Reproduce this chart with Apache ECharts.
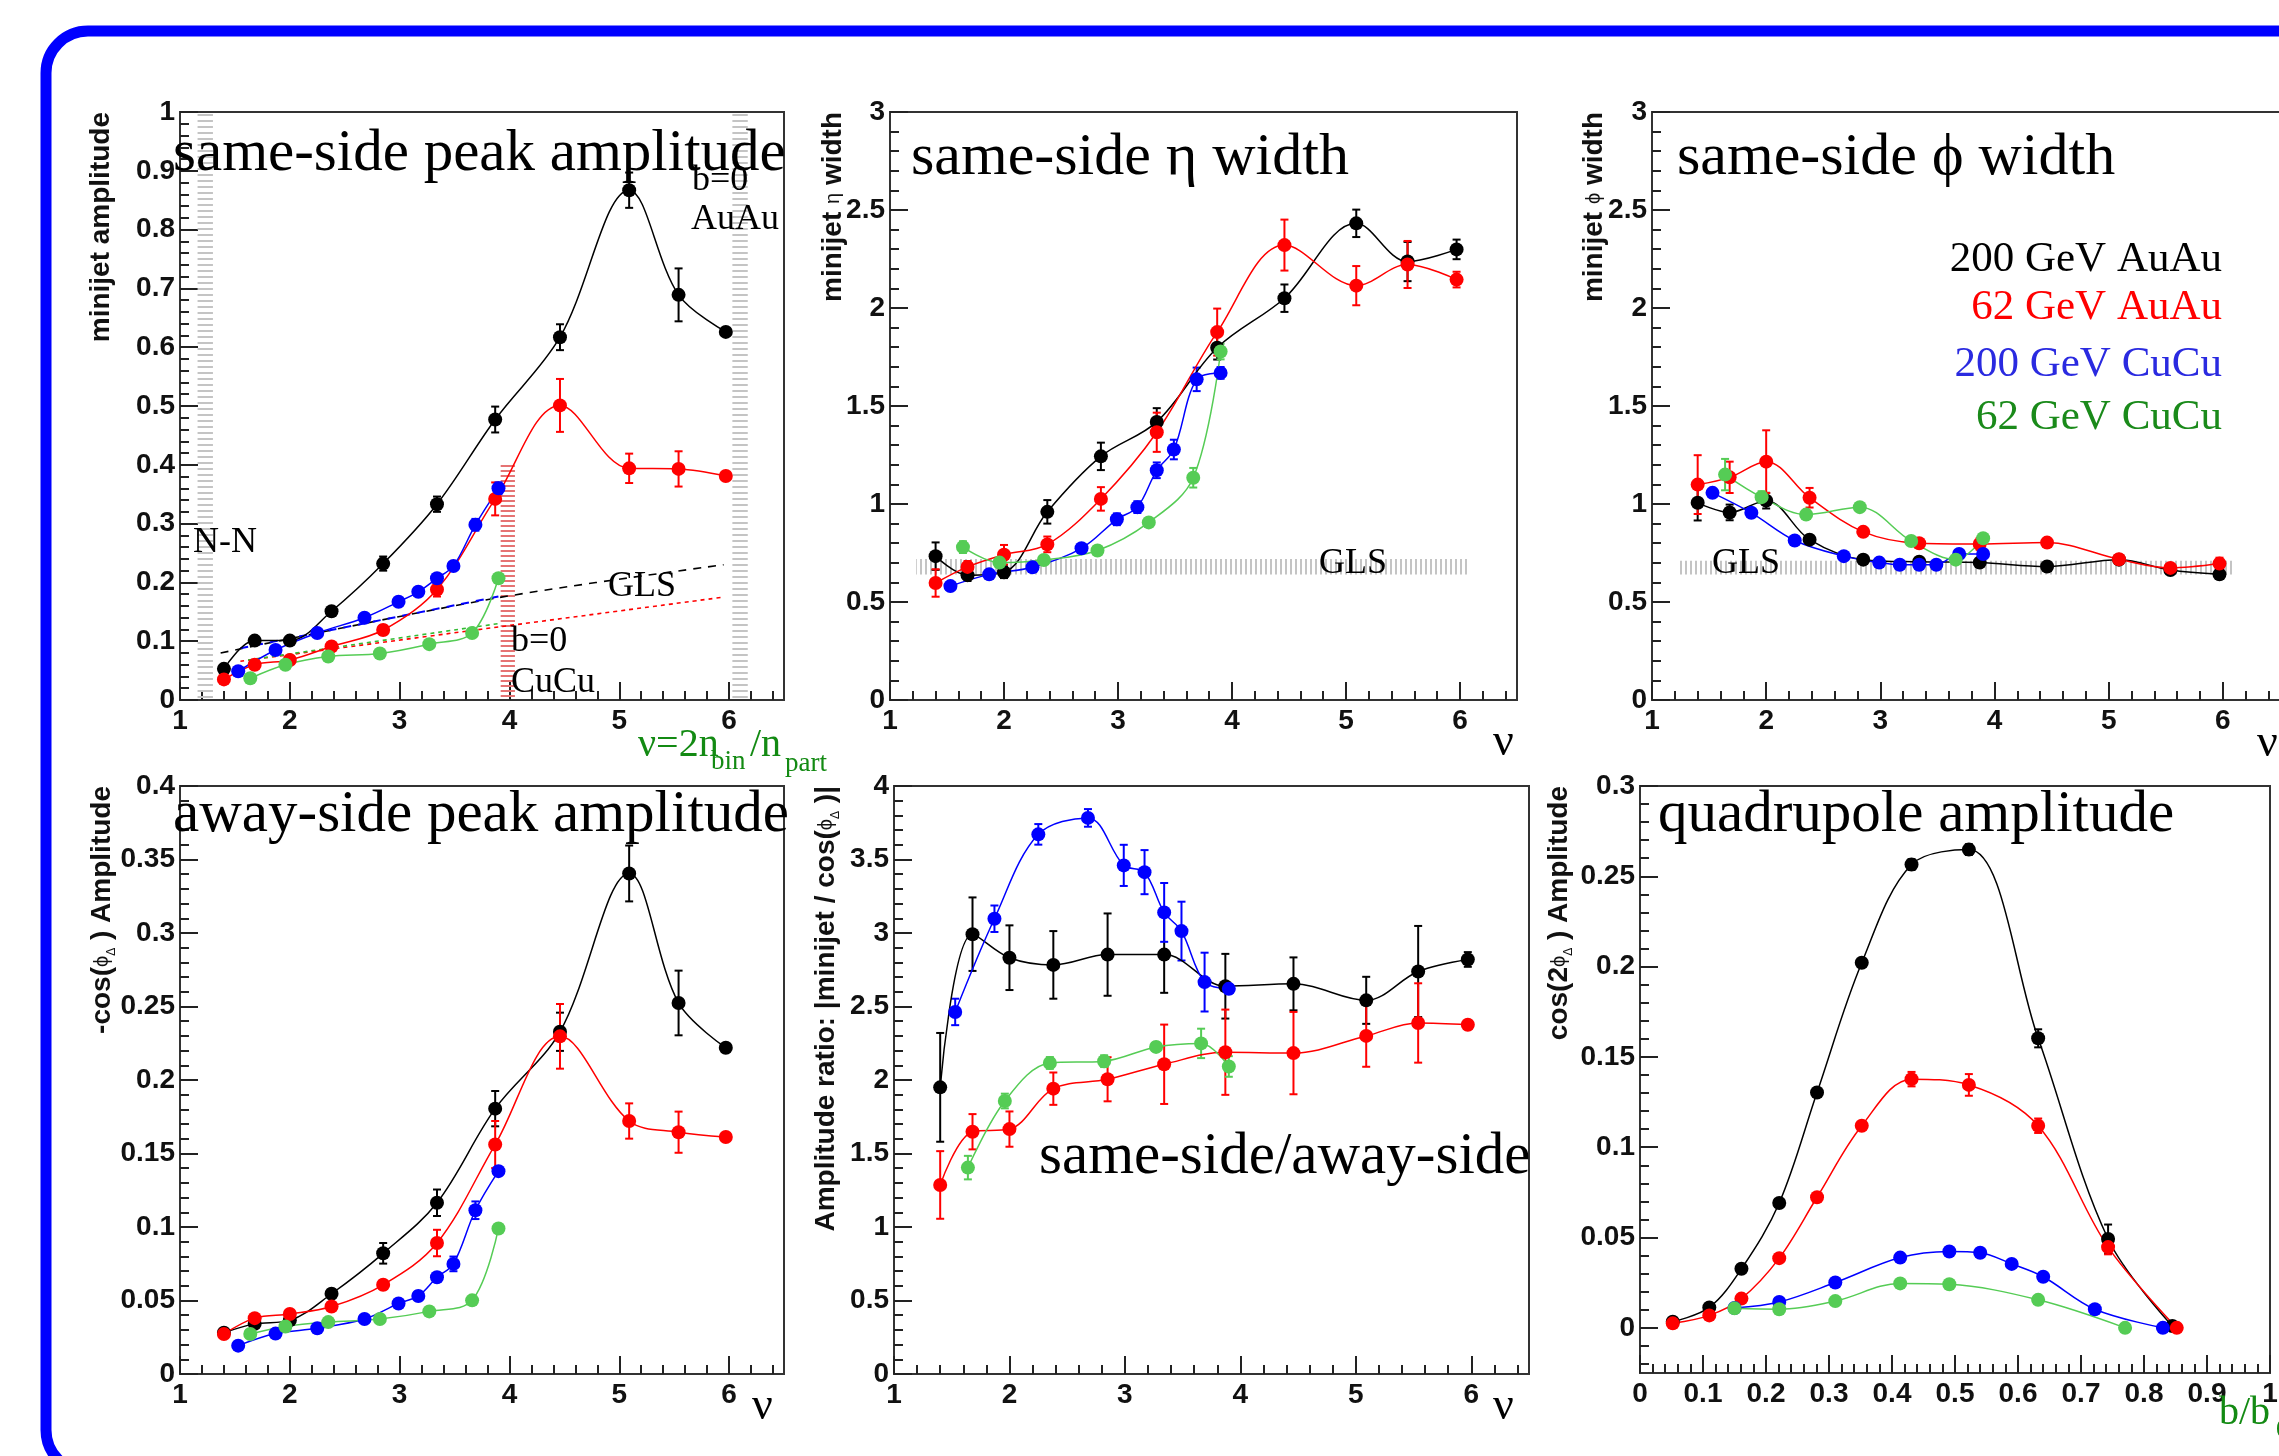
<!DOCTYPE html>
<html>
<head>
<meta charset="utf-8">
<script src="https://cdn.jsdelivr.net/npm/echarts@6/dist/echarts.min.js"></script>
<style>
  html, body { margin: 0; padding: 0; background: #fff; }
  #chart { width: 2279px; height: 1456px; }
</style>
</head>
<body>
<div id="chart"></div>
<script>
// ---- centrality points (nu = 2 n_bin / n_part) per collision system ----
const nuAuAu200 = [1.40, 1.68, 2.00, 2.38, 2.85, 3.34, 3.87, 4.46, 5.09, 5.54, 5.97];
const nuAuAu62  = [1.40, 1.68, 2.00, 2.38, 2.85, 3.34, 3.87, 4.46, 5.09, 5.54, 5.97];
const nuCuCu200 = [1.53, 1.87, 2.25, 2.68, 2.99, 3.17, 3.34, 3.49, 3.69, 3.90];
const nuCuCu62  = [1.64, 1.96, 2.35, 2.82, 3.27, 3.66, 3.90];

// ---- same-side peak amplitude ----
const ssAmpAuAu200 = [0.053, 0.101, 0.101, 0.151, 0.232, 0.333, 0.477, 0.617, 0.867, 0.689, 0.626];
const ssAmpAuAu200Err = [0.005, 0.005, 0.005, 0.007, 0.012, 0.013, 0.022, 0.022, 0.030, 0.045, 0.006];
const ssAmpAuAu62 = [0.035, 0.060, 0.068, 0.091, 0.119, 0.188, 0.342, 0.501, 0.394, 0.393, 0.381];
const ssAmpAuAu62Err = [0.004, 0.004, 0.004, 0.006, 0.008, 0.012, 0.028, 0.045, 0.025, 0.030, 0.006];
const ssAmpCuCu200 = [0.049, 0.085, 0.114, 0.140, 0.167, 0.184, 0.207, 0.228, 0.298, 0.360];
const ssAmpCuCu200Err = [0.003, 0.003, 0.003, 0.004, 0.005, 0.005, 0.006, 0.006, 0.010, 0.010];
const ssAmpCuCu62 = [0.037, 0.060, 0.074, 0.079, 0.095, 0.114, 0.207];
const ssAmpCuCu62Err = [0.003, 0.003, 0.003, 0.003, 0.004, 0.004, 0.006];
// Glauber linear superposition references
const glsAuAu200Nu = [1.37, 3.90, 5.95];
const glsAuAu200 = [0.080, 0.174, 0.230];
const glsCuCu200Nu = [1.55, 3.90];
const glsCuCu200 = [0.088, 0.176];
const glsAuAu62Nu = [1.55, 5.95];
const glsAuAu62 = [0.066, 0.175];
const glsCuCu62Nu = [1.62, 3.90];
const glsCuCu62 = [0.068, 0.130];
// shaded bands: N-N limit, b=0 AuAu, b=0 CuCu (nu extents, top value)
const bandNN = [1.16, 1.30, 1.0];
const bandAuAu = [6.03, 6.17, 1.0];
const bandCuCu = [3.92, 4.05, 0.40];

// ---- same-side eta width ----
const etaWAuAu200 = [0.734, 0.637, 0.652, 0.960, 1.243, 1.419, 1.797, 2.050, 2.432, 2.237, 2.299];
const etaWAuAu200Err = [0.07, 0.03, 0.03, 0.06, 0.07, 0.07, 0.06, 0.07, 0.07, 0.10, 0.05];
const etaWAuAu62 = [0.597, 0.679, 0.741, 0.794, 1.026, 1.366, 1.877, 2.321, 2.114, 2.222, 2.145];
const etaWAuAu62Err = [0.07, 0.03, 0.05, 0.04, 0.06, 0.10, 0.12, 0.13, 0.10, 0.12, 0.04];
const etaWCuCu200 = [0.581, 0.641, 0.677, 0.774, 0.922, 0.984, 1.172, 1.278, 1.636, 1.669];
const etaWCuCu200Err = [0.02, 0.02, 0.02, 0.02, 0.03, 0.03, 0.04, 0.05, 0.06, 0.03];
const etaWCuCu62 = [0.780, 0.701, 0.714, 0.763, 0.906, 1.134, 1.778];
const etaWCuCu62Err = [0.03, 0.02, 0.02, 0.02, 0.02, 0.05, 0.04];
const bandGlsEta = [1.23, 6.07, 0.64, 0.72];

// ---- same-side phi width ----
const phiWAuAu200 = [1.006, 0.957, 1.017, 0.818, 0.716, 0.705, 0.701, 0.681, 0.716, 0.663, 0.641];
const phiWAuAu200Err = [0.09, 0.04, 0.04, 0.02, 0.02, 0.01, 0.02, 0.02, 0.02, 0.02, 0.02];
const phiWAuAu62 = [1.099, 1.136, 1.216, 1.032, 0.858, 0.800, 0.796, 0.803, 0.718, 0.674, 0.696];
const phiWAuAu62Err = [0.15, 0.08, 0.16, 0.05, 0.02, 0.02, 0.03, 0.02, 0.02, 0.02, 0.03];
const phiWCuCu200 = [1.057, 0.955, 0.814, 0.734, 0.701, 0.690, 0.690, 0.690, 0.745, 0.745];
const phiWCuCu200Err = [0.02, 0.02, 0.02, 0.02, 0.02, 0.02, 0.02, 0.02, 0.02, 0.02];
const phiWCuCu62 = [1.150, 1.035, 0.946, 0.984, 0.811, 0.716, 0.825];
const phiWCuCu62Err = [0.08, 0.03, 0.02, 0.02, 0.02, 0.02, 0.02];
const bandGlsPhi = [1.245, 6.09, 0.64, 0.71];

// ---- away-side peak amplitude ----
const asAmpAuAu200 = [0.0281, 0.0341, 0.0365, 0.0546, 0.0821, 0.1165, 0.1805, 0.2328, 0.3405, 0.2524, 0.2219];
const asAmpAuAu200Err = [0.002, 0.002, 0.002, 0.003, 0.007, 0.009, 0.012, 0.013, 0.019, 0.022, 0.002];
const asAmpAuAu62 = [0.0272, 0.0380, 0.0408, 0.0459, 0.0607, 0.0891, 0.1561, 0.2297, 0.1721, 0.1645, 0.1612];
const asAmpAuAu62Err = [0.002, 0.002, 0.002, 0.003, 0.003, 0.009, 0.016, 0.022, 0.012, 0.014, 0.002];
const asAmpCuCu200 = [0.0193, 0.0275, 0.0311, 0.0374, 0.0480, 0.0531, 0.0658, 0.0749, 0.1114, 0.1380];
const asAmpCuCu200Err = [0.001, 0.001, 0.002, 0.002, 0.002, 0.003, 0.003, 0.005, 0.006, 0.003];
const asAmpCuCu62 = [0.0272, 0.0323, 0.0353, 0.0374, 0.0426, 0.0501, 0.0990];
const asAmpCuCu62Err = [0.001, 0.001, 0.001, 0.001, 0.002, 0.002, 0.002];

// ---- same-side / away-side amplitude ratio ----
const ratioAuAu200 = [1.950, 2.992, 2.832, 2.783, 2.853, 2.853, 2.638, 2.654, 2.542, 2.738, 2.820];
const ratioAuAu200Err = [0.37, 0.25, 0.22, 0.23, 0.28, 0.26, 0.22, 0.18, 0.16, 0.31, 0.05];
const ratioAuAu62 = [1.286, 1.648, 1.666, 1.941, 2.005, 2.107, 2.189, 2.183, 2.300, 2.388, 2.376];
const ratioAuAu62Err = [0.23, 0.12, 0.12, 0.11, 0.15, 0.27, 0.29, 0.28, 0.21, 0.27, 0.03];
const ratioCuCu200 = [2.463, 3.097, 3.671, 3.783, 3.460, 3.414, 3.140, 3.013, 2.666, 2.620];
const ratioCuCu200Err = [0.09, 0.09, 0.07, 0.06, 0.14, 0.15, 0.20, 0.20, 0.20, 0.03];
const ratioCuCu62 = [1.404, 1.857, 2.116, 2.128, 2.225, 2.249, 2.092];
const ratioCuCu62Err = [0.08, 0.05, 0.04, 0.04, 0.03, 0.10, 0.07];

// ---- quadrupole amplitude vs b/b0 ----
const bAuAu200 = [0.052, 0.110, 0.161, 0.221, 0.281, 0.352, 0.431, 0.522, 0.632, 0.743, 0.845];
const quadAuAu200 = [0.0034, 0.0113, 0.0327, 0.0691, 0.1303, 0.2021, 0.2565, 0.2648, 0.1603, 0.0492, 0.0010];
const quadAuAu200Err = [0.001, 0.001, 0.001, 0.002, 0.002, 0.002, 0.003, 0.003, 0.005, 0.008, 0.001];
const bAuAu62 = [0.052, 0.110, 0.161, 0.221, 0.281, 0.352, 0.431, 0.522, 0.632, 0.743, 0.852];
const quadAuAu62 = [0.0025, 0.0069, 0.0162, 0.0386, 0.0723, 0.1119, 0.1377, 0.1345, 0.1119, 0.0447, 0.0000];
const quadAuAu62Err = [0.001, 0.001, 0.001, 0.002, 0.002, 0.002, 0.004, 0.006, 0.004, 0.004, 0.001];
const bCuCu200 = [0.150, 0.221, 0.310, 0.413, 0.491, 0.540, 0.590, 0.640, 0.722, 0.830];
const quadCuCu200 = [0.0110, 0.0143, 0.0251, 0.0389, 0.0423, 0.0416, 0.0354, 0.0283, 0.0103, 0.0000];
const quadCuCu200Err = [0.001, 0.001, 0.001, 0.001, 0.001, 0.001, 0.001, 0.001, 0.001, 0.001];
const bCuCu62 = [0.150, 0.221, 0.310, 0.413, 0.491, 0.632, 0.770];
const quadCuCu62 = [0.0108, 0.0103, 0.0148, 0.0246, 0.0241, 0.0155, 0.0000];
const quadCuCu62Err = [0.001, 0.001, 0.001, 0.001, 0.001, 0.001, 0.001];

// ---- tick labels ----
const nuTicks = [1, 2, 3, 4, 5, 6];
const ampTicks = [0, 0.1, 0.2, 0.3, 0.4, 0.5, 0.6, 0.7, 0.8, 0.9, 1];
const widthTicks = [0, 0.5, 1, 1.5, 2, 2.5, 3];
const awayTicks = [0, 0.05, 0.1, 0.15, 0.2, 0.25, 0.3, 0.35, 0.4];
const ratioTicks = [0, 0.5, 1, 1.5, 2, 2.5, 3, 3.5, 4];
const quadTicks = [0, 0.05, 0.1, 0.15, 0.2, 0.25, 0.3];
const bTicks = [0, 0.1, 0.2, 0.3, 0.4, 0.5, 0.6, 0.7, 0.8, 0.9, 1];

// ---- legend entries ----
const systems = ['200 GeV AuAu', '62 GeV AuAu', '200 GeV CuCu', '62 GeV CuCu'];

// ---------------------------------------------------------------
const C = { k: '#000000', r: '#ff0000', b: '#0000ff', g: '#55cc55' };
const LEG = ['#000000', '#ff0000', '#2a2ae0', '#1a8a1a'];
const SANS = 'Liberation Sans';
const SERIF = 'Liberation Serif';
const PHI = '\u03d5';

function minorValues(lo, hi, step, majors) {
  const out = [];
  const n = Math.round((hi - lo) / step);
  for (let i = 0; i <= n; i++) {
    const v = +(lo + i * step).toFixed(6);
    if (v > hi + 1e-9) break;
    if (!majors.some(m => Math.abs(m - v) < 1e-9)) out.push(v);
  }
  return out;
}

function hatch(color, vertical, gap, lw) {
  const c = document.createElement('canvas');
  c.width = gap; c.height = gap;
  const g = c.getContext('2d');
  g.fillStyle = color;
  if (vertical) g.fillRect(0, 0, lw, gap); else g.fillRect(0, 0, gap, lw);
  return { image: c, repeat: 'repeat' };
}

const fmt = v => String(+(+v).toFixed(4));

function errRender(params, api) {
  const x = api.value(0), y = api.value(1), e = api.value(2);
  if (!e) return null;
  const t = api.coord([x, y + e]);
  const b = api.coord([x, y - e]);
  const col = api.visual('color');
  const st = { stroke: col, lineWidth: 2 };
  const w = 4;
  return {
    type: 'group',
    children: [
      { type: 'line', shape: { x1: t[0], y1: t[1], x2: b[0], y2: b[1] }, style: st },
      { type: 'line', shape: { x1: t[0] - w, y1: t[1], x2: t[0] + w, y2: t[1] }, style: st },
      { type: 'line', shape: { x1: b[0] - w, y1: b[1], x2: b[0] + w, y2: b[1] }, style: st }
    ]
  };
}

const zip = (xs, ys) => xs.map((x, i) => [x, ys[i]]);
const zip3 = (xs, ys, es) => xs.map((x, i) => [x, ys[i], es[i]]);

const panels = [
  {
    grid: { left: 180, top: 112, width: 604, height: 588 },
    x: [1, 6.5], xMajor: nuTicks, xStep: 0.2,
    y: [0, 1], yMajor: ampTicks, yStep: 0.02,
    data: [
      [nuAuAu200, ssAmpAuAu200, ssAmpAuAu200Err, C.k],
      [nuAuAu62, ssAmpAuAu62, ssAmpAuAu62Err, C.r],
      [nuCuCu200, ssAmpCuCu200, ssAmpCuCu200Err, C.b],
      [nuCuCu62, ssAmpCuCu62, ssAmpCuCu62Err, C.g]
    ]
  },
  {
    grid: { left: 890, top: 112, width: 627, height: 588 },
    x: [1, 6.5], xMajor: nuTicks, xStep: 0.2,
    y: [0, 3], yMajor: widthTicks, yStep: 0.1,
    data: [
      [nuAuAu200, etaWAuAu200, etaWAuAu200Err, C.k],
      [nuAuAu62, etaWAuAu62, etaWAuAu62Err, C.r],
      [nuCuCu200, etaWCuCu200, etaWCuCu200Err, C.b],
      [nuCuCu62, etaWCuCu62, etaWCuCu62Err, C.g]
    ]
  },
  {
    grid: { left: 1652, top: 112, width: 628, height: 588 },
    x: [1, 6.5], xMajor: nuTicks, xStep: 0.2,
    y: [0, 3], yMajor: widthTicks, yStep: 0.1,
    data: [
      [nuAuAu200, phiWAuAu200, phiWAuAu200Err, C.k],
      [nuAuAu62, phiWAuAu62, phiWAuAu62Err, C.r],
      [nuCuCu200, phiWCuCu200, phiWCuCu200Err, C.b],
      [nuCuCu62, phiWCuCu62, phiWCuCu62Err, C.g]
    ]
  },
  {
    grid: { left: 180, top: 786, width: 604, height: 588 },
    x: [1, 6.5], xMajor: nuTicks, xStep: 0.2,
    y: [0, 0.4], yMajor: awayTicks, yStep: 0.01,
    data: [
      [nuAuAu200, asAmpAuAu200, asAmpAuAu200Err, C.k],
      [nuAuAu62, asAmpAuAu62, asAmpAuAu62Err, C.r],
      [nuCuCu200, asAmpCuCu200, asAmpCuCu200Err, C.b],
      [nuCuCu62, asAmpCuCu62, asAmpCuCu62Err, C.g]
    ]
  },
  {
    grid: { left: 894, top: 786, width: 635, height: 588 },
    x: [1, 6.5], xMajor: nuTicks, xStep: 0.2,
    y: [0, 4], yMajor: ratioTicks, yStep: 0.1,
    data: [
      [nuAuAu200, ratioAuAu200, ratioAuAu200Err, C.k],
      [nuAuAu62, ratioAuAu62, ratioAuAu62Err, C.r],
      [nuCuCu200, ratioCuCu200, ratioCuCu200Err, C.b],
      [nuCuCu62, ratioCuCu62, ratioCuCu62Err, C.g]
    ]
  },
  {
    grid: { left: 1640, top: 786, width: 630, height: 587 },
    x: [0, 1], xMajor: bTicks, xStep: 0.02,
    y: [-0.025, 0.3], yMajor: quadTicks, yStep: 0.01,
    data: [
      [bAuAu200, quadAuAu200, quadAuAu200Err, C.k],
      [bAuAu62, quadAuAu62, quadAuAu62Err, C.r],
      [bCuCu200, quadCuCu200, quadCuCu200Err, C.b],
      [bCuCu62, quadCuCu62, quadCuCu62Err, C.g]
    ]
  }
];

const option = {
  animation: false,
  backgroundColor: '#ffffff',
  grid: [], xAxis: [], yAxis: [], series: [], graphic: []
};

function majorAxis(dir, gi, range, vals) {
  return {
    type: 'value', gridIndex: gi, min: range[0], max: range[1],
    position: dir === 'x' ? 'bottom' : 'left',
    axisLine: { show: false, onZero: false }, splitLine: { show: false },
    axisTick: { show: true, inside: true, length: 18, customValues: vals,
      lineStyle: { color: '#222', width: 2 } },
    axisLabel: { show: true, customValues: vals, formatter: fmt,
      fontFamily: SANS, fontWeight: 'bold', fontSize: 28, color: '#111',
      margin: dir === 'x' ? 7 : 5 }
  };
}
function minorAxis(dir, gi, range, vals) {
  return {
    type: 'value', gridIndex: gi, min: range[0], max: range[1],
    position: dir === 'x' ? 'bottom' : 'left', offset: 0,
    axisLine: { show: false, onZero: false }, splitLine: { show: false },
    axisLabel: { show: false },
    axisTick: { show: true, inside: true, length: 9, customValues: vals,
      lineStyle: { color: '#222', width: 2 } }
  };
}

panels.forEach((p, i) => {
  option.grid.push(Object.assign({ show: true, borderColor: '#333', borderWidth: 2,
    backgroundColor: 'transparent', containLabel: false, outerBoundsMode: 'none' }, p.grid));
  option.xAxis.push(majorAxis('x', i, p.x, p.xMajor));
  option.xAxis.push(minorAxis('x', i, p.x, minorValues(p.x[0], p.x[1] - 1e-9, p.xStep, p.xMajor)));
  option.yAxis.push(majorAxis('y', i, p.y, p.yMajor));
  option.yAxis.push(minorAxis('y', i, p.y, minorValues(
    Math.ceil(p.y[0] / p.yStep - 1e-9) * p.yStep, p.y[1] - 1e-9, p.yStep, p.yMajor)));
  p.data.forEach(([xs, ys, es, col]) => {
    option.series.push({
      type: 'custom', xAxisIndex: 2 * i, yAxisIndex: 2 * i, z: 3,
      renderItem: errRender, itemStyle: { color: col },
      encode: { x: 0, y: 1 }, data: zip3(xs, ys, es)
    });
    option.series.push({
      type: 'line', xAxisIndex: 2 * i, yAxisIndex: 2 * i, z: 4,
      data: zip(xs, ys), smooth: 0.35, symbol: 'circle', symbolSize: 14,
      itemStyle: { color: col }, lineStyle: { color: col, width: 1.5 }
    });
  });
});

// hatched bands and reference lines
function bandSeries(gi, areas, z) {
  return { type: 'line', xAxisIndex: 2 * gi, yAxisIndex: 2 * gi, data: [], z: z || 1,
    markArea: { silent: true, data: areas } };
}
const greyH = hatch('#c4c4c4', false, 6, 2);
const redH = hatch('#e57373', false, 5, 2);
const greyV = hatch('#c4c4c4', true, 5, 2);
option.series.push(bandSeries(0, [
  [{ xAxis: bandNN[0], yAxis: 0, itemStyle: { color: greyH } }, { xAxis: bandNN[1], yAxis: bandNN[2] }],
  [{ xAxis: bandAuAu[0], yAxis: 0, itemStyle: { color: greyH } }, { xAxis: bandAuAu[1], yAxis: bandAuAu[2] }],
  [{ xAxis: bandCuCu[0], yAxis: 0, itemStyle: { color: redH } }, { xAxis: bandCuCu[1], yAxis: bandCuCu[2] }]
]));
option.series.push(bandSeries(1, [
  [{ xAxis: bandGlsEta[0], yAxis: bandGlsEta[2], itemStyle: { color: greyV } }, { xAxis: bandGlsEta[1], yAxis: bandGlsEta[3] }]
]));
option.series.push(bandSeries(2, [
  [{ xAxis: bandGlsPhi[0], yAxis: bandGlsPhi[2], itemStyle: { color: greyV } }, { xAxis: bandGlsPhi[1], yAxis: bandGlsPhi[3] }]
]));
function refLine(xs, ys, col, dash, w) {
  return { type: 'line', xAxisIndex: 0, yAxisIndex: 0, z: 2, data: zip(xs, ys),
    symbol: 'none', smooth: 0.3, lineStyle: { color: col, width: w || 1.6, type: dash } };
}
option.series.push(refLine(glsAuAu200Nu, glsAuAu200, '#000', [8, 7]));
option.series.push(refLine(glsCuCu200Nu, glsCuCu200, '#0000ff', [8, 7], 2));
option.series.push(refLine(glsAuAu62Nu, glsAuAu62, '#ff0000', [4, 4]));
option.series.push(refLine(glsCuCu62Nu, glsCuCu62, '#33bb33', [4, 4]));

// ---------- text ----------
const G = option.graphic;
function txt(s, x, base, size, color, align, family) {
  G.push({
    type: 'text', x: x, y: base - 0.3 * size, z: 100,
    style: { text: s, fill: color || '#000', fontSize: size, fontFamily: family || SERIF,
      align: align || 'left', verticalAlign: 'middle',
      textAlign: align || 'left', textVerticalAlign: 'middle' }
  });
}
// panel titles
txt('same-side peak amplitude', 173, 172, 59);
txt('same-side \u03b7 width', 911, 176, 60);
txt('same-side ' + PHI + ' width', 1677, 176, 60);
txt('away-side peak amplitude', 173, 833, 59);
txt('same-side/away-side', 1039, 1175, 59);
txt('quadrupole amplitude', 1658, 833, 59);
// annotations
txt('N-N', 193, 553, 36);
txt('GLS', 608, 597, 36);
txt('b=0', 511, 652, 36);
txt('CuCu', 511, 693, 36);
txt('b=0', 692, 191, 36);
txt('AuAu', 691, 230, 36);
txt('GLS', 1319, 574, 36);
txt('GLS', 1712, 574, 36);
// legend
[273, 321, 378, 431].forEach((yb, k) => txt(systems[k], 2222, yb, 43, LEG[k], 'right'));
// axis variable labels
txt('\u03bd', 1493, 757, 46);
txt('\u03bd', 2257, 758, 46);
txt('\u03bd', 752, 1421, 46);
txt('\u03bd', 1493, 1421, 46);
const GREEN = '#138a13';
txt('\u03bd=2n', 638, 757, 40, GREEN);
txt('bin', 711, 770, 27, GREEN);
txt('/n', 750, 757, 40, GREEN);
txt('part', 785, 772, 27, GREEN);
txt('b/b', 2219, 1425, 40, GREEN);
txt('0', 2276, 1438, 26, GREEN);

// rotated y-axis titles
function yTitle(rich, cx, top) {
  G.push({
    type: 'text', x: cx, y: top, rotation: Math.PI / 2, z: 100,
    style: {
      text: rich, align: 'right', verticalAlign: 'middle',
      textAlign: 'right', textVerticalAlign: 'middle',
      rich: {
        a: { fontFamily: SANS, fontWeight: 'bold', fontSize: 28, lineHeight: 32, fill: '#111' },
        g: { fontFamily: SANS, fontSize: 20, lineHeight: 32, fill: '#111' },
        s: { fontFamily: SANS, fontSize: 12, lineHeight: 12, verticalAlign: 'bottom', fill: '#111' }
      }
    }
  });
}
yTitle('{a|minijet amplitude}', 101, 112);
yTitle('{a|minijet }{g|\u03b7}{a| width}', 833, 112);
yTitle('{a|minijet }{g|' + PHI + '}{a| width}', 1594, 112);
yTitle('{a|-cos(}{g|' + PHI + '}{s|\u0394}{a| ) Amplitude}', 102, 786);
yTitle('{a|Amplitude ratio: |minijet / cos(}{g|' + PHI + '}{s|\u0394}{a| )|}', 826, 786);
yTitle('{a|cos(2}{g|' + PHI + '}{s|\u0394}{a| ) Amplitude}', 1559, 786);

// outer rounded frame
G.push({
  type: 'rect', z: 0,
  shape: { x: 46, y: 31, width: 2400, height: 1441, r: 42 },
  style: { fill: 'none', stroke: '#0000ff', lineWidth: 11 }
});

const chart = echarts.init(document.getElementById('chart'), null, { renderer: 'canvas' });
chart.setOption(option);
</script>
</body>
</html>
